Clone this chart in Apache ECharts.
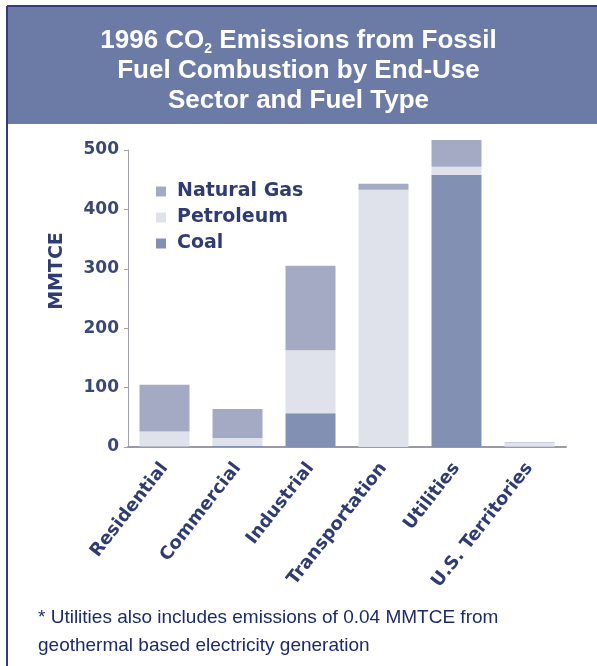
<!DOCTYPE html>
<html>
<head>
<meta charset="utf-8">
<script src="https://cdn.jsdelivr.net/npm/echarts@6/dist/echarts.min.js"></script>
<style>
html,body{margin:0;padding:0;background:#fff;}
#chart{width:597px;height:666px;}
</style>
</head>
<body>
<div id="chart"></div>
<script>
const categories = ['Residential', 'Commercial', 'Industrial', 'Transportation', 'Utilities', 'U.S. Territories'];
const coal = [1, 2, 57, 0, 458, 0.5];
const petroleum = [25, 13, 106, 433, 14, 7];
const naturalGas = [79, 49, 142, 10, 45, 1];
const yTicks = [0, 100, 200, 300, 400, 500];

const navy = '#2e3c72';
const chart = echarts.init(document.getElementById('chart'));
const barCommon = { type: 'bar', stack: 'total', barWidth: 50, clip: false };
chart.setOption({
  backgroundColor: '#fff',
  animation: false,
  graphic: [
    { type: 'rect', shape: { x: 7, y: 7, width: 590, height: 117 }, style: { fill: '#6b7ba5' } },
    { type: 'line', shape: { x1: 7, y1: 6, x2: 597, y2: 6 }, style: { stroke: '#2b3f80', lineWidth: 2 } },
    { type: 'line', shape: { x1: 7, y1: 6, x2: 7, y2: 666 }, style: { stroke: '#2b3f80', lineWidth: 2 } },
    { type: 'text', x: 57, y: 271, rotation: Math.PI / 2, style: {
        text: 'MMTCE', align: 'center', verticalAlign: 'middle',
        font: 'bold 19px "DejaVu Sans", sans-serif', fill: navy } },
    { type: 'text', left: 38, top: 604, style: {
        text: '* Utilities also includes emissions of 0.04 MMTCE from\ngeothermal based electricity generation',
        font: '19px "Liberation Sans Narrow", "Liberation Sans", sans-serif',
        fill: '#1e2b6a', lineHeight: 28 } }
  ],
  title: {
    text: '1996 CO{sub|2} Emissions from Fossil\nFuel Combustion by End-Use\nSector and Fuel Type',
    left: 'center', top: 21,
    textStyle: {
      color: '#fff', fontFamily: '"Liberation Sans", Arial, sans-serif', fontWeight: 'bold', fontSize: 26, lineHeight: 30,
      rich: { sub: { color: '#fff', fontFamily: '"Liberation Sans", Arial, sans-serif', fontWeight: 'bold', fontSize: 14, lineHeight: 30, verticalAlign: 'bottom', padding: [10, 0, 0, 0] } }
    }
  },
  legend: {
    orient: 'vertical', left: 151, top: 177, itemGap: 7, itemWidth: 10, itemHeight: 10,
    icon: 'rect',
    data: ['Natural Gas', 'Petroleum', 'Coal'],
    textStyle: { color: navy, fontFamily: '"DejaVu Sans", sans-serif', fontWeight: 'bold', fontSize: 19, padding: [0, 0, 0, 6] }
  },
  grid: { left: 128, right: 31, top: 150, bottom: 219, containLabel: false },
  xAxis: {
    type: 'category', data: categories,
    axisLine: { lineStyle: { color: '#9a9aa6', width: 2 } },
    axisTick: { show: false },
    axisLabel: { rotate: 52, interval: 0, margin: 18, color: navy, fontFamily: '"DejaVu Sans", sans-serif', fontWeight: 'bold', fontSize: 18 }
  },
  yAxis: {
    type: 'value', min: 0, max: 500, interval: 100,
    axisLine: { show: true, lineStyle: { color: '#a0a0aa' } },
    axisTick: { show: true, length: 4, lineStyle: { color: '#a0a0aa' } },
    splitLine: { show: false },
    axisLabel: { color: '#3a4878', fontFamily: '"DejaVu Sans", sans-serif', fontWeight: 'bold', fontSize: 17, margin: 9,
      formatter: v => yTicks.includes(v) ? String(v) : '' }
  },
  series: [
    Object.assign({ name: 'Coal', data: coal, itemStyle: { color: '#8291b3' } }, barCommon),
    Object.assign({ name: 'Petroleum', data: petroleum, itemStyle: { color: '#dfe2ea' } }, barCommon),
    Object.assign({ name: 'Natural Gas', data: naturalGas, itemStyle: { color: '#a4aac4' } }, barCommon)
  ]
});
</script>
</body>
</html>
